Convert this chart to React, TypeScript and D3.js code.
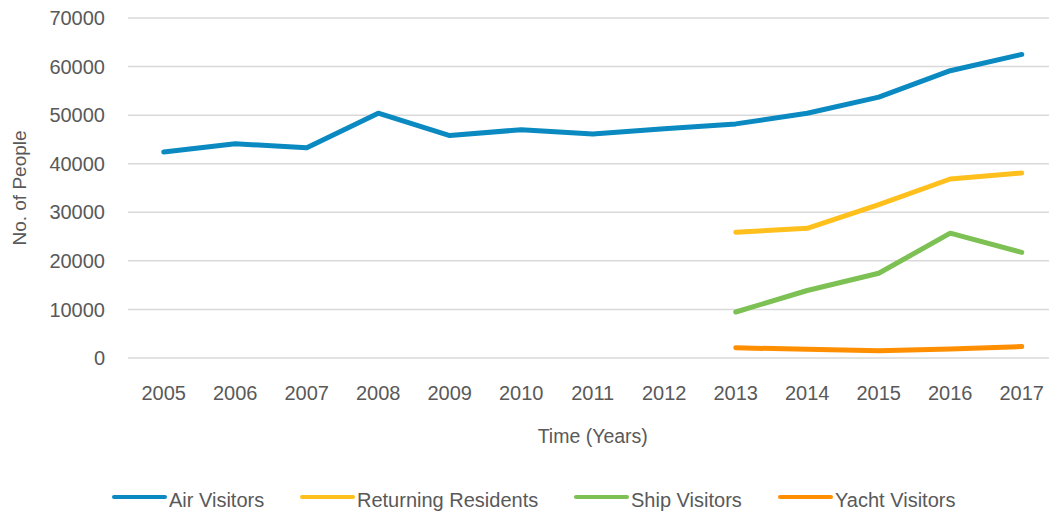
import React, { useEffect, useRef } from 'react';
import * as d3 from 'd3';

const years = ['2005', '2006', '2007', '2008', '2009', '2010', '2011', '2012', '2013', '2014', '2015', '2016', '2017'];
const airVisitors = [42400, 44100, 43300, 50400, 45800, 47000, 46100, 47200, 48200, 50400, 53700, 59150, 62500];
const returningResidents = [null, null, null, null, null, null, null, null, 25900, 26700, 31600, 36850, 38100];
const shipVisitors = [null, null, null, null, null, null, null, null, 9470, 13900, 17450, 25700, 21750];
const yachtVisitors = [null, null, null, null, null, null, null, null, 2100, 1800, 1500, 1850, 2350];
const yTicks = [0, 10000, 20000, 30000, 40000, 50000, 60000, 70000];

const series = [
  { name: 'Air Visitors', values: airVisitors, color: '#0A8AC0', lx: 114 },
  { name: 'Returning Residents', values: returningResidents, color: '#FFC01E', lx: 302 },
  { name: 'Ship Visitors', values: shipVisitors, color: '#7DC053', lx: 576 },
  { name: 'Yacht Visitors', values: yachtVisitors, color: '#FF8F00', lx: 780 },
];

const W = 1049;
const H = 511;

export default function App() {
  const svgRef = useRef<SVGSVGElement>(null);

  useEffect(() => {
    if (!svgRef.current) return;
    const svg = d3.select(svgRef.current);
    svg.selectAll('*').remove();

    const font = '"Liberation Sans", Arial, sans-serif';
    const textColor = '#595959';

    const x = d3.scaleBand<string>().domain(years).range([128, 1057.5]);
    const y = d3.scaleLinear().domain([0, 70000]).range([358, 18]);
    const cx = (d: string) => (x(d) || 0) + x.bandwidth() / 2;

    // gridlines
    svg.append('g')
      .selectAll('line')
      .data(yTicks)
      .join('line')
      .attr('x1', 128)
      .attr('x2', 1060)
      .attr('y1', d => y(d))
      .attr('y2', d => y(d))
      .attr('stroke', '#d9d9d9')
      .attr('stroke-width', 1.5);

    // y tick labels
    svg.append('g')
      .selectAll('text')
      .data(yTicks)
      .join('text')
      .attr('x', 105)
      .attr('y', d => y(d))
      .attr('dy', '0.36em')
      .attr('text-anchor', 'end')
      .attr('font-family', font)
      .attr('font-size', 20)
      .attr('fill', textColor)
      .text(d => d);

    // x tick labels
    svg.append('g')
      .selectAll('text')
      .data(years)
      .join('text')
      .attr('x', d => cx(d))
      .attr('y', 400)
      .attr('text-anchor', 'middle')
      .attr('font-family', font)
      .attr('font-size', 20)
      .attr('fill', textColor)
      .text(d => d);

    svg.append('text')
      .attr('x', cx('2011'))
      .attr('y', 443)
      .attr('text-anchor', 'middle')
      .attr('font-family', font)
      .attr('font-size', 19.5)
      .attr('fill', textColor)
      .text('Time (Years)');

    svg.append('text')
      .attr('transform', 'translate(26,188) rotate(-90)')
      .attr('text-anchor', 'middle')
      .attr('font-family', font)
      .attr('font-size', 19)
      .attr('fill', textColor)
      .text('No. of People');

    const line = d3.line<number | null>()
      .defined(d => d !== null)
      .x((_, i) => cx(years[i]))
      .y(d => y(d as number));

    series.forEach(s => {
      svg.append('path')
        .datum(s.values)
        .attr('d', line)
        .attr('fill', 'none')
        .attr('stroke', s.color)
        .attr('stroke-width', 5)
        .attr('stroke-linecap', 'round')
        .attr('stroke-linejoin', 'round');
    });

    // legend
    const legend = svg.append('g');
    series.forEach(s => {
      legend.append('line')
        .attr('x1', s.lx)
        .attr('x2', s.lx + 51)
        .attr('y1', 497)
        .attr('y2', 497)
        .attr('stroke', s.color)
        .attr('stroke-width', 4)
        .attr('stroke-linecap', 'round');
      legend.append('text')
        .attr('x', s.lx + 55)
        .attr('y', 500)
        .attr('dy', '0.35em')
        .attr('font-family', font)
        .attr('font-size', 20)
        .attr('fill', textColor)
        .text(s.name);
    });
  }, []);

  return (
    <div style={{ position: 'absolute', left: 0, top: 0, width: W, height: H, overflow: 'hidden' }}>
      <svg ref={svgRef} width={W} height={H} style={{ display: 'block', background: '#fff' }} />
    </div>
  );
}
